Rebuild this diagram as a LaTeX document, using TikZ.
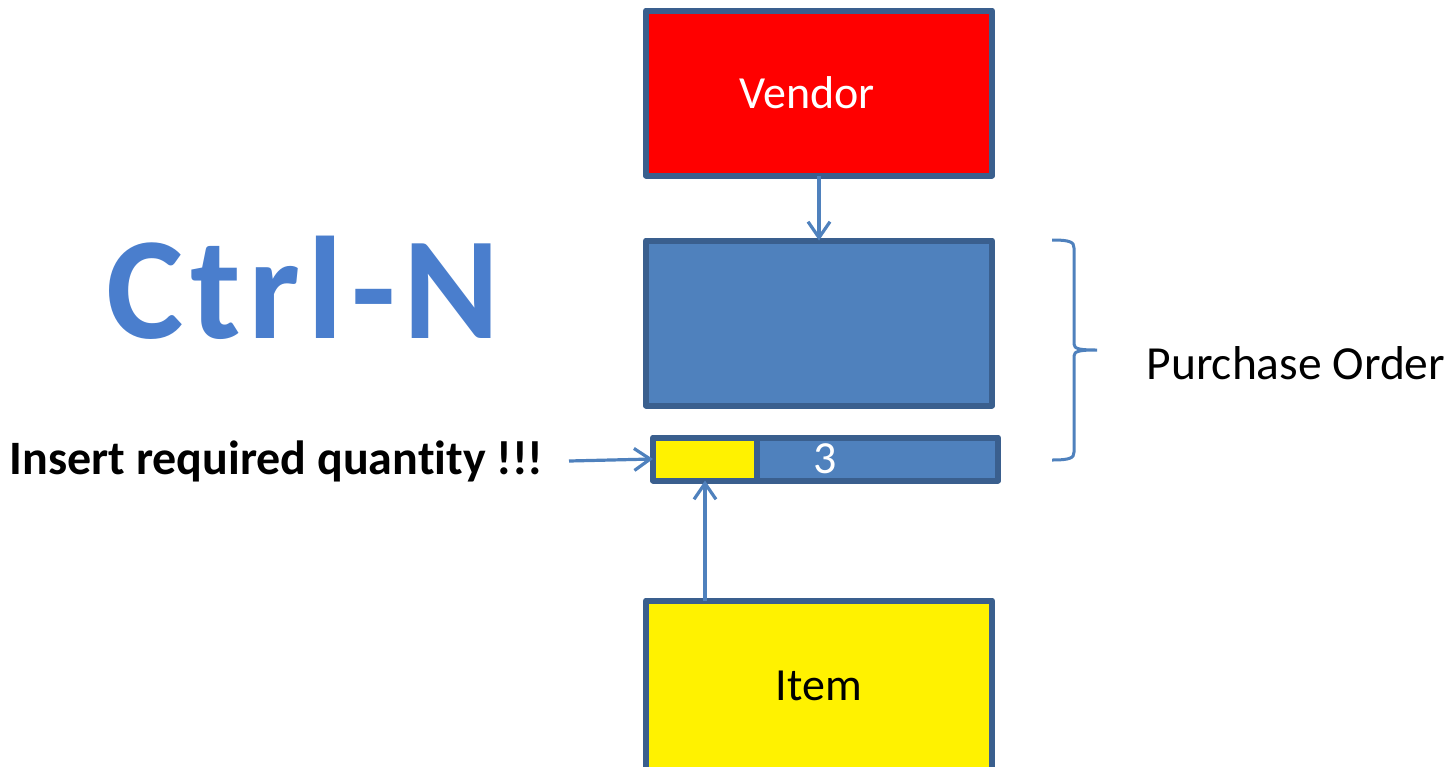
\documentclass[tikz,border=0pt]{standalone}
\usepackage{fontspec}
\setmainfont{Carlito}[Ligatures=NoCommon]
\newfontfamily\ctrlfont{Carlito}[LetterSpace=5, Ligatures=NoCommon]
\usetikzlibrary{arrows.meta, positioning}
\usepackage{xcolor}
\definecolor{boxblue}{HTML}{4F81BD}
\definecolor{edgeblue}{HTML}{3A5F8E}
\definecolor{ctrlblue}{HTML}{4A7ECD}

\begin{document}
\begin{tikzpicture}[
x=1pt, y=-1pt,
box/.style={draw=edgeblue,
line width=6pt,
line join=round,
rectangle,
anchor=north west,
outer sep=0pt,
inner sep=0pt,
minimum width=346pt,
minimum height=165pt,
align=center,
font=\fontsize{46}{50}\selectfont},
arrow/.style={-{Straight Barb[length=16pt, width=22pt]}, boxblue, line width=3.2pt},
label/.style={font=\fontsize{46}{50}\selectfont}
]
\useasboundingbox (0,0) rectangle (1455,766);

\node[box, fill=red, text=white] (vendor) at (646,10.5) {Vendor\hspace*{24pt}};
\node[box, fill=boxblue] (order) at (646,240.5) {};
\node[box, fill=boxblue, minimum width=241pt, minimum height=43pt] (qtyval) at (757,437.5) {};
\node[box, fill=yellow, minimum width=104pt, minimum height=43pt] (qty) at (653,437.5) {};
\node[label, text=white] (qtynum) at (825,459) {3};
\node[box, fill=yellow, minimum height=170pt] (item) at (646,600.5) {Item};

\node[font=\ctrlfont\bfseries\fontsize{146}{160}\selectfont, text=ctrlblue, anchor=base] (ctrl) at (303,338) {Ctrl-N};
\node[font=\bfseries\fontsize{48}{50}\selectfont, anchor=east] (note) at (547,461) {Insert required quantity !!!};
\node[label, anchor=west, font=\fontsize{47.5}{50}\selectfont] (po) at (1143,363) {Purchase Order};

\coordinate (bracetop) at (1052,240);
\coordinate (bracebot) at (1052,460);

\draw[arrow] (vendor) -- (order);
\draw[arrow] (qty.south |- item.north) -- (qty.south);
\draw[arrow] ([xshift=22pt]note.east) -- (qty.west);

% brace
\draw[boxblue, line width=3pt] (bracetop) .. controls (1070,240) and (1074,242) .. (1074,248)
  -- (1074,344) .. controls (1074,349) and (1080,350) .. (1097,350)
  .. controls (1080,350) and (1074,351) .. (1074,356)
  -- (1074,452) .. controls (1074,458) and (1070,460) .. (bracebot);

\end{tikzpicture}
\end{document}
